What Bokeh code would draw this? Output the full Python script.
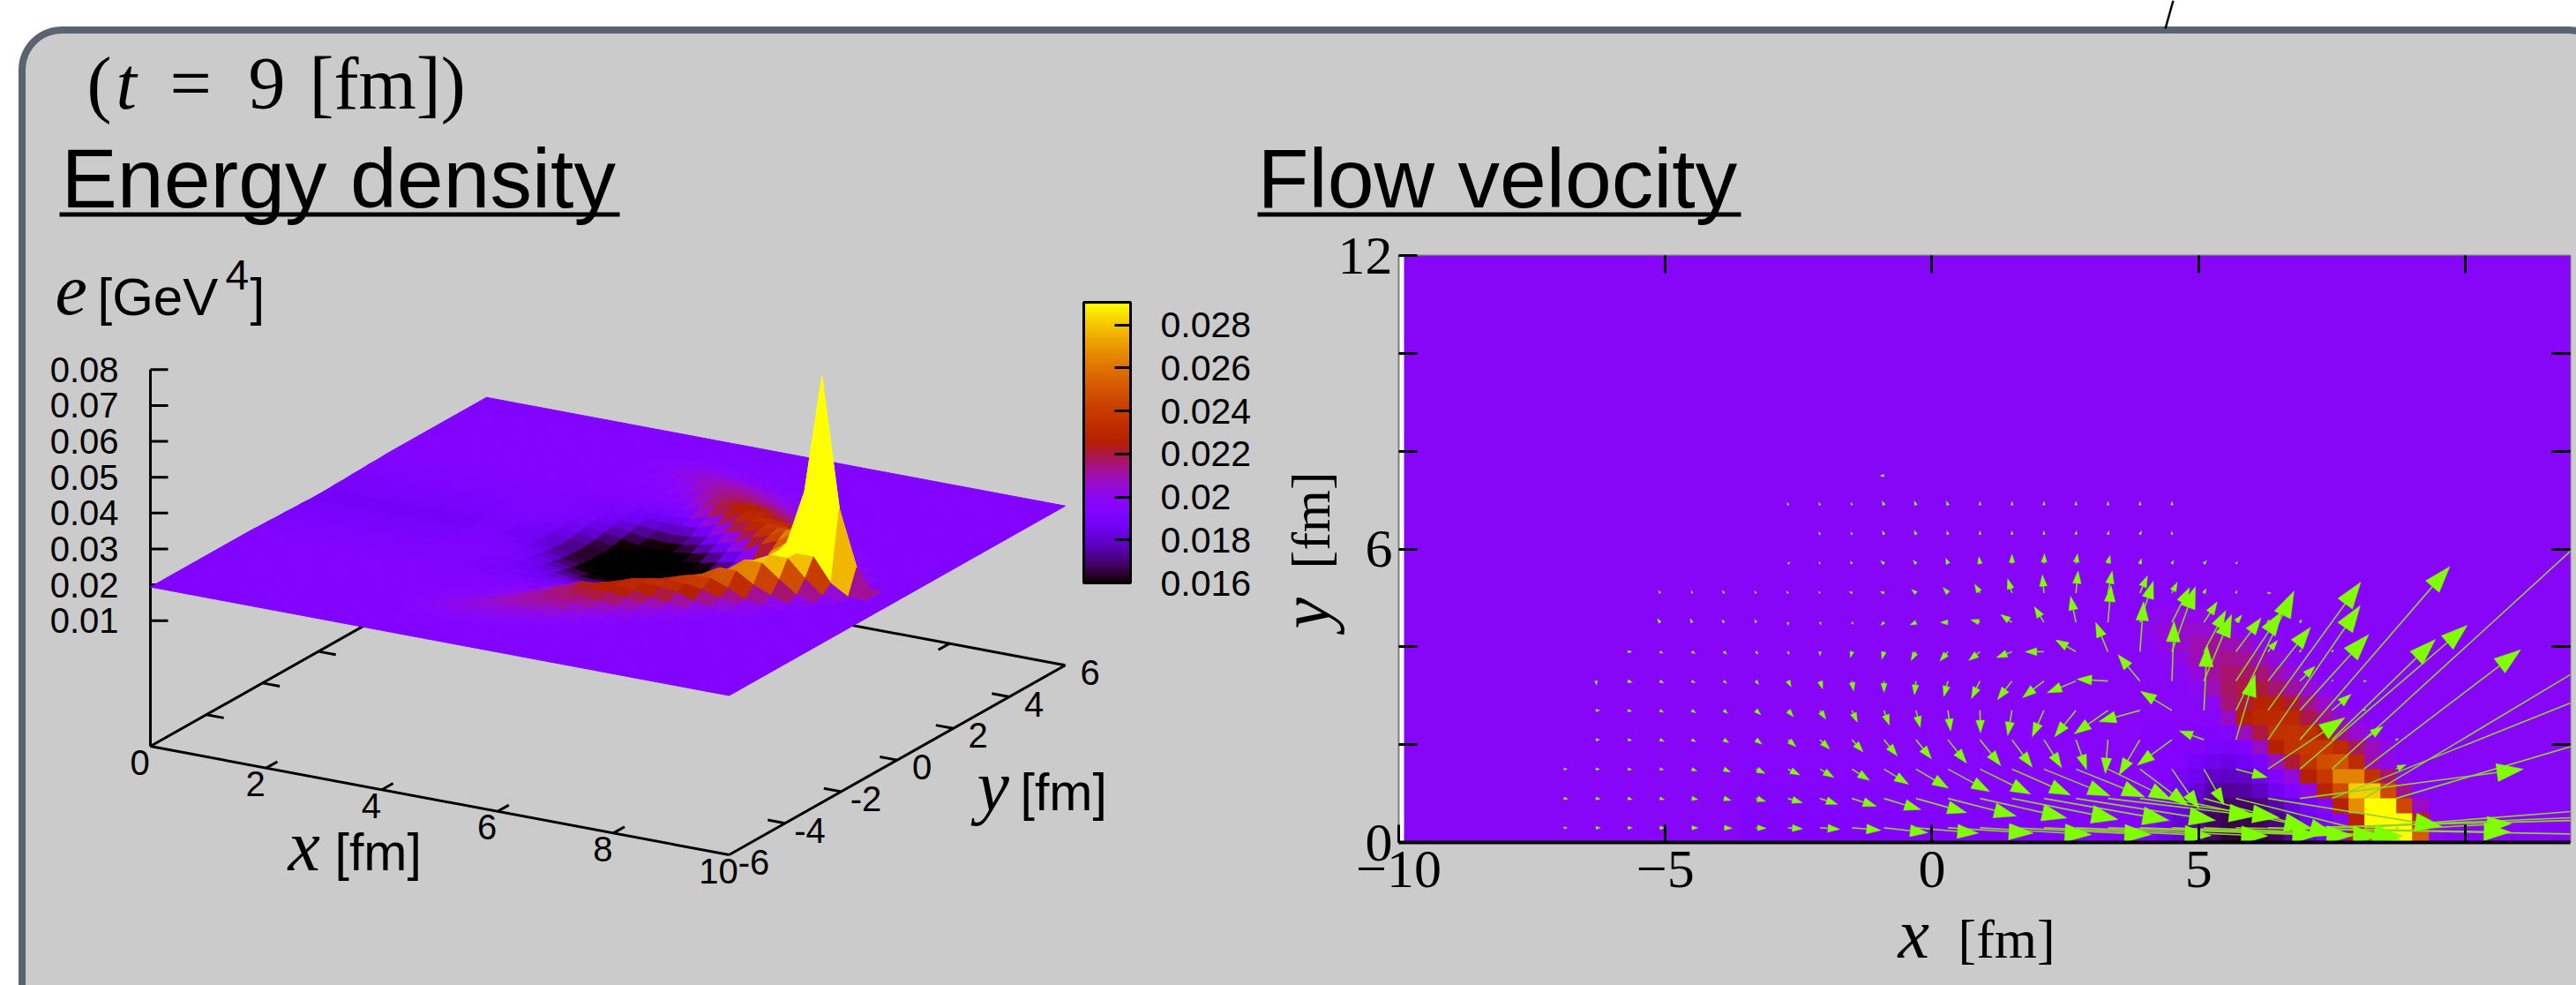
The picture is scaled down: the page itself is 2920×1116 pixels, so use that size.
import math
import numpy as np
from bokeh.embed import file_html
from bokeh.models import (ColorBar, ColumnDataSource, FixedTicker, Label,
                          LinearAxis, LinearColorMapper, Range1d)
from bokeh.plotting import figure
from bokeh.resources import INLINE
from bokeh.transform import transform

# ---------- energy density e [1e-4 GeV^4], cell k: x in [0.3k, 0.3k+0.3], row r: |y| in [0.3r, 0.3r+0.3]
first_k = 10
e_background = 194
e_r00 = [191,190,189,187,182,177,171,164,160,159,160,163,169,177,185,193,225,250,290,290,250,196]
e_r01 = [192,191,190,189,183,177,170,164,162,162,163,167,173,181,187,196,225,290,290,290,225,196]
e_r02 = [192,192,191,190,186,179,173,167,164,164,167,171,178,185,193,223,266,290,290,243,204,194]
e_r03 = [193,192,192,191,189,183,177,171,169,170,174,181,189,198,225,245,281,281,244,210,194,194]
e_r04 = [193,193,192,192,190,186,181,175,174,175,181,189,200,223,236,263,263,233,213,197,194,194]
e_r05 = [193,193,193,191,190,189,185,181,179,182,187,204,218,233,245,247,229,206,198,194,194,194]
e_r06 = [193,193,193,191,191,190,189,187,186,189,204,223,232,236,236,229,214,205,197,194,194,194]
e_r07 = [193,193,193,191,191,191,190,190,191,205,217,232,233,231,225,209,202,196,194,194,194,194]
e_r08 = [194,194,194,194,193,193,193,193,204,223,227,228,227,216,208,200,196,194,194,194,194,194]
e_r09 = [194,194,194,194,194,194,194,196,212,217,225,225,218,210,202,196,194,194,194,194,194,194]
e_r10 = [194,194,194,194,194,194,196,205,214,217,217,213,208,201,196,194,194,194,194,194,194,194]
e_r11 = [194,194,194,194,194,195,200,208,213,214,212,206,201,196,194,194,194,194,194,194,194,194]
e_r12 = [194,194,194,194,195,198,205,209,210,209,205,200,196,194,194,194,194,194,194,194,194,194]
e_r13 = [194,194,194,195,198,202,206,208,206,204,198,195,194,194,194,194,194,194,194,194,194,194]
e_r14 = [194,194,194,197,200,202,202,201,198,195,194,194,194,194,194,194,194,194,194,194,194,194]
e_r15 = [194,194,194,196,197,198,198,197,195,194,194,194,194,194,194,194,194,194,194,194,194,194]
e_rows = [e_r00,e_r01,e_r02,e_r03,e_r04,e_r05,e_r06,e_r07,e_r08,e_r09,e_r10,e_r11,e_r12,e_r13,e_r14,e_r15]
e_halo = [190,190,191,191,192,192,193,193,194]   # rows 0..8, left of the table

# tall values of the surface along y = 0 [GeV^4]
spike_x = [7.8, 8.1, 8.4, 8.7, 9.0, 9.3]
spike_e = [0.0262, 0.030, 0.045, 0.078, 0.042, 0.0265]
# the surface's hollow reads deeper than the map's by this factor
surface_dip = 1.5

# ---------- flow vectors [fm]: rows at y, tails start at x0 and step by 0.6
u_y03 = [.06,.08,.08,.09,.11,.15,.19,.27,.37,.54,.82,1.17,1.6,2.09,2.61,3.14,3.6,3.96,4.0,3.9,3.73,7.5,4.55,7.17,6.07,5.5,.06,1.57]
v_y03 = [0,0,0,0,0,-.01,-.01,-.02,-.03,-.05,-.1,-.11,-.11,-.14,-.14,-.16,-.17,-.15,-.16,-.17,-.17,-.15,-.09,.21,.28,.47,0,.09]
u_y09 = [.07,.08,.08,.08,.11,.13,.18,.27,.33,.46,.69,.95,1.28,1.63,1.99,2.35,2.62,2.77,2.61,2.61,2.48,3.07,3.26,4.19,5.52,5.52,4.42]
v_y09 = [-.01,-.01,-.02,-.02,-.02,-.04,-.06,-.09,-.12,-.16,-.23,-.29,-.36,-.4,-.43,-.45,-.45,-.36,-.39,-.6,-.75,-.84,-.57,.6,2.41,3.61,1.43]
u_y15 = [.06,.07,.07,.07,.09,.12,.17,.22,.26,.33,.46,.61,.78,.95,1.1,1.24,1.29,1.19,.91,.51,.38,.59,1.44,3.14,5.52,2.94,.19]
v_y15 = [0,0,-.01,-.01,-.04,-.06,-.09,-.12,-.17,-.23,-.31,-.39,-.46,-.51,-.53,-.55,-.57,-.63,-.75,-.81,-.73,-.17,1.05,2.94,5.5,2.44,.09]
u_y21 = [.07,.07,.08,.07,.09,.11,.15,.18,.21,.25,.29,.35,.39,.38,.33,.2,-.05,-.39,-.65,-.46,.36,1.73,2.81,1.94,.36,.05]
v_y21 = [0,-.01,-.03,-.04,-.06,-.09,-.14,-.19,-.25,-.33,-.39,-.48,-.53,-.56,-.57,-.61,-.69,-.72,-.52,.18,1.33,2.74,3.54,2.05,.27,.02]
u_y27 = [.07,.07,.07,.07,.07,.09,.1,.11,.1,.1,.08,.05,.01,-.08,-.22,-.4,-.63,-.77,-.59,.06,1.09,1.74,1.29,.36,.04]
v_y27 = [0,-.02,-.04,-.05,-.06,-.09,-.13,-.18,-.24,-.3,-.35,-.42,-.46,-.51,-.54,-.54,-.48,-.23,.39,1.33,2.44,2.62,1.55,.33,.02]
u_y33 = [.01,.08,.07,.06,.05,.05,.06,.05,.03,0,-.03,-.08,-.16,-.27,-.4,-.54,-.58,-.41,.04,.52,.86,.8,.28,.03,.05]
v_y33 = [-.08,-.03,-.04,-.04,-.05,-.07,-.12,-.16,-.2,-.23,-.28,-.32,-.36,-.38,-.34,-.24,.04,.54,1.22,1.36,1.42,1.1,.3,.02,0]
u_y39 = [.07,.06,.06,.05,.04,.02,0,-.03,-.04,-.09,-.15,-.21,-.29,-.35,-.38,-.23,.07,.44,.41,.47,.18,.03,.03]
v_y39 = [0,-.03,-.04,-.05,-.05,-.06,-.08,-.12,-.15,-.18,-.19,-.18,-.12,0,.24,.6,1.02,1.33,.84,.69,.23,.05,.04]
u_y45 = [-.05,-.03,-.04,-.02,0,.02,.03,-.06,-.11,-.14,-.17,-.21,-.18,-.1,.06,.25,.33,.25,.11,.02,.03]
v_y45 = [.07,.07,.05,.06,-.06,-.05,-.04,-.06,-.05,0,.05,.16,.32,.53,.75,.84,.71,.42,.15,.06,.06]
u_y51 = [-.02,-.01,-.03,-.03,-.03,-.03,-.05,-.07,-.08,-.09,-.1,-.08,-.03,.04,.08,.14,.1,.04,.02,.06]
v_y51 = [.05,.05,.05,.04,.04,.03,.03,.03,.07,.11,.18,.29,.37,.45,.45,.35,.22,.09,.05,0]
u_y57 = [.04,-.02,-.03,-.06,-.05,-.04,-.02,0,.01,.03,.04,.03,.03,.05,.03]
v_y57 = [.03,.04,.05,.06,.07,.11,.14,.19,.2,.2,.17,.1,.07,.06,.04]
u_y63 = [-.02,-.02,-.03,-.03,-.02,0,0,0,.01,.02,.03,0]
v_y63 = [.05,.05,.07,.08,.07,.07,.07,.07,.07,.07,.07,.06]
u_y69 = [-.01,-.02,-.02,-.03,-.03,-.03,0,0,0,0,0,0,0]
v_y69 = [.05,.05,.05,.08,.08,.08,.07,.07,.07,.07,.07,.07,.07]
u_y75 = [-.07]
v_y75 = [0]
vector_rows = [(.3,-6.9,u_y03,v_y03),(.9,-6.9,u_y09,v_y09),(1.5,-6.9,u_y15,v_y15),(2.1,-6.3,u_y21,v_y21),
               (2.7,-6.3,u_y27,v_y27),(3.3,-6.3,u_y33,v_y33),(3.9,-5.7,u_y39,v_y39),(4.5,-5.1,u_y45,v_y45),
               (5.1,-5.1,u_y51,v_y51),(5.7,-2.7,u_y57,v_y57),(6.3,-2.1,u_y63,v_y63),(6.9,-2.7,u_y69,v_y69),
               (7.5,-.9,u_y75,v_y75)]

# ---------- tick values and labels
surf_x_ticks = [0, 2, 4, 6, 8, 10]
surf_y_ticks = [-6, -4, -2, 0, 2, 4, 6]
surf_z_ticks = [0.01, 0.02, 0.03, 0.04, 0.05, 0.06, 0.07, 0.08]
bar_ticks = [0.016, 0.018, 0.02, 0.022, 0.024, 0.026, 0.028]
bar_labels = ["0.016", "0.018", "0.02", "0.022", "0.024", "0.026", "0.028"]
map_x_ticks = [-10, -5, 0, 5, 10]
map_x_labels = ["\u221210", "\u22125", "0", "5", ""]
map_y_ticks = [0, 2, 4, 6, 8, 10, 12]
map_y_labels = ["0", "", "", "6", "", "", "12"]

GREY = "#cbcbcb"
SLATE = "#5a6470"
LIME = "#80ff00"
SANS = "Liberation Sans"
SERIF = "Liberation Serif"


def gnuplot_palette(n=256):
    out = []
    for i in range(n):
        t = i / (n - 1)
        r, g, b = math.sqrt(t), t ** 3, max(0.0, math.sin(2 * math.pi * t))
        out.append("#%02x%02x%02x" % (round(255 * r), round(255 * g), round(255 * b)))
    return out


PAL = gnuplot_palette()


def node_value(k, r):
    """Energy density of cell / node k, r, in 1e-4 GeV^4."""
    r = abs(r)
    if r < len(e_rows) and first_k <= k < first_k + len(e_r00):
        return e_rows[r][k - first_k]
    if r < len(e_halo) and -12 <= k < first_k:
        return e_halo[r]
    return e_background


# ======================================================== page-wide figure: panel, texts, surface
left = figure(width=2920, height=1116, x_range=Range1d(0, 2920), y_range=Range1d(1116, 0),
              output_backend="svg", toolbar_location=None, min_border=0,
              background_fill_color="white", border_fill_color="white", outline_line_color=None,
              styles={"position": "absolute", "left": "0px", "top": "0px"})
left.axis.visible = False
left.grid.visible = False

# panel
R = 45
arc = [i * math.pi / 2 / 12 for i in range(13)]
edge_x = [24.5] + [24.5 + R - R * math.cos(a) for a in arc] + [2911 + R * math.sin(a) for a in arc]
edge_y = [1130] + [33.5 + R - R * math.sin(a) for a in arc] + [33.5 + R - R * math.cos(a) for a in arc]
left.patch(edge_x + [2956], edge_y + [1130], fill_color=GREY, line_color=None)
left.line(edge_x, edge_y, line_color=SLATE, line_width=8)
left.segment([2463], [0], [2454], [32], line_color="black", line_width=2.5)


def project(x, y, z):
    return (170 + 65.6 * x + 31.75 * (y + 6), 845 + 12.3 * x - 17.9 * (y + 6) - (z + 0.025) * 4064)


FLOOR = -0.025
ax_xs, ax_ys = [], []


def add_seg(a, b):
    ax_xs.append([a[0], b[0]])
    ax_ys.append([a[1], b[1]])


add_seg(project(0, -6, FLOOR), project(10, -6, FLOOR))
add_seg(project(10, -6, FLOOR), project(10, 6, FLOOR))
add_seg(project(0, -6, FLOOR), project(0, 6, FLOOR))
add_seg(project(0, 6, FLOOR), project(10, 6, FLOOR))
add_seg(project(0, -6, FLOOR), project(0, -6, 0.08))
for t in surf_x_ticks[1:-1]:
    add_seg(project(t, -6, FLOOR), project(t, -5.6, FLOOR))
    add_seg(project(t, 6, FLOOR), project(t, 5.6, FLOOR))
for t in surf_y_ticks[1:-1]:
    add_seg(project(10, t, FLOOR), project(9.7, t, FLOOR))
    add_seg(project(0, t, FLOOR), project(0.3, t, FLOOR))
for t in surf_z_ticks:
    sx, sy = project(0, -6, t)
    add_seg((sx, sy), (sx + 20, sy))
left.multi_line(ax_xs, ax_ys, line_color="black", line_width=3)

# surface
x_nodes = [0.3 * k for k in range(34)] + [10.0]
y_idx = list(range(-20, 21))
override = {round(a, 1): b for a, b in zip(spike_x, spike_e)}


def node_e(i, r):
    if r == 0 and round(x_nodes[i], 1) in override:
        return override[round(x_nodes[i], 1)]
    val = node_value(i, r)
    if val < e_background:
        val = max(150.0, e_background - surface_dip * (e_background - val))
    return val * 1e-4


quads = []
for i in range(len(x_nodes) - 1):
    for j in range(len(y_idx) - 1):
        corners = [(i, j), (i + 1, j), (i + 1, j + 1), (i, j + 1)]
        pts, es = [], []
        for a, b in corners:
            e = node_e(a, y_idx[b])
            es.append(e)
            pts.append(project(x_nodes[a], 0.3 * y_idx[b], e))
        depth = project(x_nodes[i] + 0.15, 0.3 * y_idx[j] + 0.15, 0)[1]
        quads.append((depth, [p[0] for p in pts], [p[1] for p in pts], sum(es) / 4))
quads.sort(key=lambda q: q[0])
surf_map = LinearColorMapper(palette=PAL, low=0.016, high=0.02905)
surf_src = ColumnDataSource(dict(xs=[q[1] for q in quads], ys=[q[2] for q in quads], e=[q[3] for q in quads]))
left.patches("xs", "ys", source=surf_src, fill_color=transform("e", surf_map),
             line_color=transform("e", surf_map), line_width=1)


def ltxt(x, y, s, size, font=SANS, style="normal", align="left", base="baseline", angle=0.0):
    """y is the text's baseline unless base == 'middle'."""
    if base == "baseline":
        if angle:
            x = x - 0.34 * size
        else:
            y = y - 0.34 * size
    left.add_layout(Label(x=x, y=y, text=s, text_font=font, text_font_size=f"{size}px", text_font_style=style,
                          text_align=align, text_baseline="middle", text_color="black", angle=angle))


ltxt(98, 123, "(", 84, SERIF)
ltxt(131, 123, "t", 84, SERIF, "italic")
ltxt(192, 123, "=", 84, SERIF)
ltxt(281, 123, "9", 84, SERIF)
ltxt(350, 123, "[fm])", 84, SERIF)
ltxt(69, 234, "Energy density", 95)
left.quad(left=[67], right=[702], top=[240], bottom=[245], fill_color="black", line_color=None)
ltxt(62, 356, "e", 82, SERIF, "italic")
ltxt(110, 356, "[GeV", 60)
ltxt(255, 327, "4", 48)
ltxt(283, 356, "]", 60)

for t in surf_z_ticks:
    ltxt(134, project(0, -6, t)[1], f"{t:.2f}", 40, align="right", base="middle")
for t in surf_x_ticks:
    sx, sy = project(t, -6, FLOOR)
    ltxt(sx - 12, sy + 18, str(t), 40, align="center", base="middle")
for t in surf_y_ticks:
    sx, sy = project(10, t, FLOOR)
    ltxt(sx + 28, sy + 8, str(t), 40, align="center", base="middle")

ltxt(326, 986, "x", 82, SERIF, "italic")
ltxt(379, 986, "[fm]", 59)
ltxt(1107, 918, "y", 82, SERIF, "italic")
ltxt(1156, 918, "[fm]", 59)

ltxt(1425, 234, "Flow velocity", 95)
left.quad(left=[1425], right=[1973], top=[240], bottom=[245], fill_color="black", line_color=None)
ltxt(2151, 1085, "x", 80, SERIF, "italic")
ltxt(2219, 1085, "[fm]", 62, SERIF)
ltxt(1507, 712, "y", 80, SERIF, "italic", angle=math.pi / 2)
ltxt(1507, 644, "[fm]", 62, SERIF, angle=math.pi / 2)

# colour bar
BAR_L, BAR_R, BAR_T, BAR_B = 1228, 1281, 342, 660
bar = ColorBar(color_mapper=surf_map, ticker=FixedTicker(ticks=bar_ticks),
               major_label_overrides={t: s for t, s in zip(bar_ticks, bar_labels)},
               width=BAR_R - BAR_L, height=BAR_B - BAR_T, location=(BAR_L, 1116 - BAR_B),
               padding=0, margin=0, background_fill_alpha=0, border_line_color=None,
               bar_line_color="black", bar_line_width=3, major_tick_line_color="black", major_tick_line_width=3,
               major_tick_in=18, minor_tick_line_color=None, label_standoff=34,
               major_label_text_font=SANS, major_label_text_font_size="41px", major_label_text_color="black")
left.add_layout(bar)
left.segment([BAR_L] * len(bar_ticks), [BAR_B - (t - 0.016) / 0.01305 * (BAR_B - BAR_T) for t in bar_ticks],
             [BAR_L + 18] * len(bar_ticks), [BAR_B - (t - 0.016) / 0.01305 * (BAR_B - BAR_T) for t in bar_ticks],
             line_color="black", line_width=3)

# ======================================================== heat map with arrows, laid over the panel
X0, X1, Y0, Y1 = -10, 11.97, 0, 12
FL, FR, FT, FB = 1585, 2913, 289, 954
SX = (FR - FL) / (X1 - X0)
SY = (FB - FT) / (Y1 - Y0)
LEFT_EDGE, TOP_EDGE = 1440, 240
BOTTOM_EDGE = 1060
right = figure(width=2920 - LEFT_EDGE, height=BOTTOM_EDGE - TOP_EDGE, x_range=Range1d(X0, X1), y_range=Range1d(Y0, Y1),
               output_backend="svg", toolbar_location=None,
               min_border_left=FL - LEFT_EDGE, min_border_right=2920 - FR, min_border_top=FT - TOP_EDGE,
               min_border_bottom=BOTTOM_EDGE - FB, background_fill_color="white", border_fill_alpha=0,
               outline_line_color="#7f7f7f", outline_line_width=2, x_axis_type=None, y_axis_type=None,
               styles={"position": "absolute", "left": f"{LEFT_EDGE}px", "top": f"{TOP_EDGE}px"})
right.grid.visible = False

K_MIN, K_MAX, R_MAX = -33, 40, 40
grid = np.array([[node_value(k, r) * 1e-4 for k in range(K_MIN, K_MAX)] for r in range(R_MAX)])
heat_map = LinearColorMapper(palette=PAL, low=0.0155, high=0.029)
right.image(image=[grid], x=0.3 * K_MIN, y=0, dw=0.3 * (K_MAX - K_MIN), dh=0.3 * R_MAX, color_mapper=heat_map)

seg_x0, seg_y0, seg_x1, seg_y1, head_xs, head_ys = [], [], [], [], [], []
for yy, x0, us, vs in vector_rows:
    for n, (u, v) in enumerate(zip(us, vs)):
        xx = x0 + 0.6 * n
        lx, ly = u * SX, v * SY
        L = math.hypot(lx, ly)
        h = min(min(2.8 * math.sqrt(L), 30.0), L)
        w = 0.34 * h
        ex, ey = lx / L, ly / L
        tipx, tipy = xx + u, yy + v
        bx, by = lx - ex * h, ly - ey * h
        seg_x0.append(xx); seg_y0.append(yy); seg_x1.append(xx + bx / SX); seg_y1.append(yy + by / SY)
        head_xs.append([tipx, xx + (bx - ey * w) / SX, xx + (bx + ey * w) / SX])
        head_ys.append([tipy, yy + (by + ex * w) / SY, yy + (by - ex * w) / SY])
right.segment(seg_x0, seg_y0, seg_x1, seg_y1, line_color="#8fd02e", line_width=1.6)
right.patches(head_xs, head_ys, fill_color=LIME, line_color=LIME, line_width=0.5)

# axes
FONT_TICK = "62px"


def make_axis(ticks, labels, place, length):
    ax = LinearAxis(ticker=FixedTicker(ticks=ticks), major_tick_in=length, major_tick_out=0,
                    minor_tick_line_color=None, major_tick_line_color="black", major_tick_line_width=3,
                    major_label_overrides={t: s for t, s in zip(ticks, labels)},
                    major_label_text_font=SERIF, major_label_text_font_size=FONT_TICK,
                    major_label_text_color="black", axis_line_color=None)
    right.add_layout(ax, place)
    return ax


ax_b = make_axis(map_x_ticks, map_x_labels, "below", 20)
ax_b.axis_line_color = "black"
ax_b.axis_line_width = 4
ax_b.major_label_standoff = 10
ax_l = make_axis(map_y_ticks, map_y_labels, "left", 21)
ax_l.major_label_standoff = 7
ax_t = make_axis(map_x_ticks[1:], [""] * 4, "above", 20)
ax_t.major_label_text_font_size = "0px"
ax_r = make_axis(map_y_ticks[1:-1], [""] * 5, "right", 21)
ax_r.major_label_text_font_size = "0px"

open("out.html", "w").write(file_html([left, right], INLINE))
